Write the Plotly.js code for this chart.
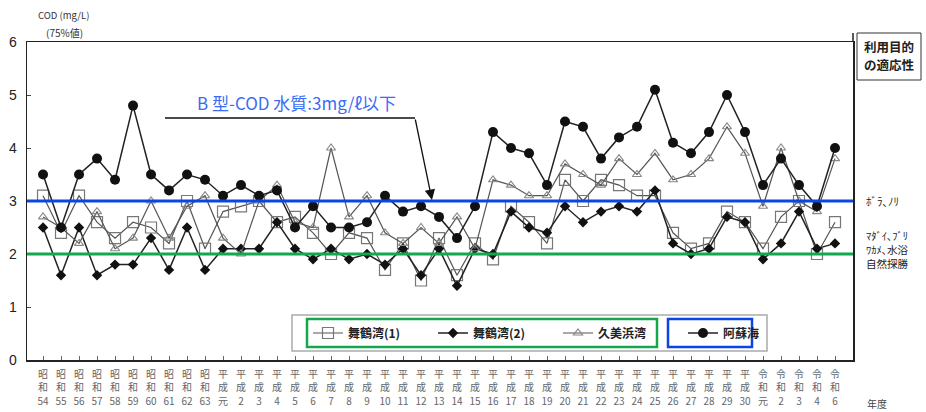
<!DOCTYPE html>
<html>
<head>
<meta charset="utf-8">
<script src="https://cdn.plot.ly/plotly-3.0.1.min.js"></script>
<style>html,body{margin:0;padding:0;background:#fff;}#chart{width:926px;height:412px;}</style>
</head>
<body>
<div id="chart"></div>
<script>
// Fiscal years (x categories)
const years = ['昭和54','昭和55','昭和56','昭和57','昭和58','昭和59','昭和60','昭和61','昭和62','昭和63',
  '平成元','平成2','平成3','平成4','平成5','平成6','平成7','平成8','平成9','平成10',
  '平成11','平成12','平成13','平成14','平成15','平成16','平成17','平成18','平成19','平成20',
  '平成21','平成22','平成23','平成24','平成25','平成26','平成27','平成28','平成29','平成30',
  '令和元','令和2','令和3','令和4','令和6'];

// COD 75% values (mg/L)
const maizuru1 = [3.1,2.4,3.1,2.6,2.3,2.6,2.5,2.2,3.0,2.1,
  2.8,2.9,3.0,2.6,2.7,2.4,2.0,2.4,2.3,1.7,
  2.2,1.5,2.3,1.6,2.2,1.9,2.9,2.6,2.2,3.4,
  3.0,3.4,3.3,3.1,3.1,2.4,2.1,2.2,2.8,2.6,
  2.1,2.7,3.0,2.0,2.6];
const maizuru2 = [2.5,1.6,2.5,1.6,1.8,1.8,2.3,1.7,2.5,1.7,
  2.1,2.1,2.1,2.6,2.1,1.9,2.1,1.9,2.0,1.8,
  2.1,1.6,2.1,1.4,2.1,2.0,2.8,2.5,2.4,2.9,
  2.6,2.8,2.9,2.8,3.2,2.2,2.0,2.1,2.7,2.6,
  1.9,2.2,2.8,2.1,2.2];
const kumihama = [2.7,2.5,2.2,2.8,2.1,2.3,3.0,2.3,2.9,3.1,
  2.3,2.0,3.0,3.3,2.6,2.5,4.0,2.7,3.1,2.4,
  2.2,2.5,2.2,2.7,2.1,3.4,3.3,3.1,3.1,3.7,
  3.5,3.3,3.8,3.5,3.9,3.4,3.5,3.8,4.4,3.9,
  2.9,4.0,3.0,2.8,3.8];
const asokai = [3.5,2.5,3.5,3.8,3.4,4.8,3.5,3.2,3.5,3.4,
  3.1,3.3,3.1,3.2,2.5,2.9,2.5,2.5,2.6,3.1,
  2.8,2.9,2.7,2.3,2.9,4.3,4.0,3.9,3.3,4.5,
  4.4,3.8,4.2,4.4,5.1,4.1,3.9,4.3,5.0,4.3,
  3.3,3.8,3.3,2.9,4.0];

const seriesNames = ['舞鶴湾(1)','舞鶴湾(2)','久美浜湾','阿蘇海'];
const stdB = 3;   // B型 standard
const stdA = 2;   // A型 standard
const yTicks = [0,1,2,3,4,5,6];

// vertical tick labels: one axis per text line
const idx = years.map((_, i) => i);
const line1 = years.map(y => y[0]);
const line2 = years.map(y => y[1]);
const line3 = years.map(y => y.slice(2));

const W = 926, H = 412, L = 27, R = 73, T = 42, B = 52;
const pw = W - L - R, ph = H - T - B;
const px = p => (p - L) / pw;          // pixel -> paper x
const py = p => (H - B - p) / ph;      // pixel -> paper y

const empty = idx.map(() => null);
const traces = [
  {x: idx, y: maizuru1, name: seriesNames[0], mode: 'lines+markers',
   line: {color: '#555', width: 1.2},
   marker: {symbol: 'square-open', size: 11, color: '#777', line: {width: 1.2}}},
  {x: idx, y: maizuru2, name: seriesNames[1], mode: 'lines+markers',
   line: {color: '#222', width: 1.5},
   marker: {symbol: 'diamond', size: 8, color: '#111'}},
  {x: idx, y: kumihama, name: seriesNames[2], mode: 'lines+markers',
   line: {color: '#555', width: 1.2},
   marker: {symbol: 'triangle-up-open', size: 8, color: '#888', line: {width: 1.1}}},
  {x: idx, y: asokai, name: seriesNames[3], mode: 'lines+markers',
   line: {color: '#222', width: 1.5},
   marker: {symbol: 'circle', size: 10, color: '#111'}},
  // carriers for the 2nd and 3rd tick-label lines (no visible marks)
  {x: idx, y: empty, xaxis: 'x2', yaxis: 'y', mode: 'markers', showlegend: false, hoverinfo: 'skip',
   marker: {opacity: 0}},
  {x: idx, y: empty, xaxis: 'x3', yaxis: 'y', mode: 'markers', showlegend: false, hoverinfo: 'skip',
   marker: {opacity: 0}}
];

const jp = '"Noto Sans CJK JP", "Noto Sans", sans-serif';
const xr = [-0.89, 45.0];
const tickFont = {family: jp, size: 10, color: '#666'};
const subAxis = (labels, standoff) => ({
  range: xr, overlaying: 'x', anchor: 'y', side: 'bottom', tickmode: 'array',
  tickvals: idx, ticktext: labels, ticks: '', showline: false, showgrid: false, zeroline: false,
  automargin: false, ticklabelstandoff: standoff, tickfont: tickFont, tickangle: 0, fixedrange: true
});

const layout = {
  width: W, height: H,
  margin: {l: L, r: R, t: T, b: B},
  paper_bgcolor: '#fff', plot_bgcolor: '#fff',
  font: {family: jp, color: '#333'},
  showlegend: true,
  legend: {orientation: 'h', x: px(308), y: py(333), xanchor: 'left', yanchor: 'middle',
    bgcolor: 'rgba(0,0,0,0)', borderwidth: 0, entrywidth: 80, entrywidthmode: 'pixels',
    font: {family: jp, size: 12, color: '#222', weight: 'bold'}, itemwidth: 30, tracegroupgap: 0},
  xaxis: {range: xr, tickmode: 'array', tickvals: idx, ticktext: line1,
    ticks: 'inside', ticklen: 4, tickcolor: '#666', showline: true, linecolor: '#222', linewidth: 1.5,
    mirror: true, showgrid: false, zeroline: false, automargin: false, ticklabelstandoff: 4,
    tickfont: tickFont, tickangle: 0},
  xaxis2: subAxis(line2, 20),
  xaxis3: subAxis(line3, 34),
  yaxis: {range: [0, 6], tickvals: yTicks, ticks: 'inside', ticklen: 4, tickcolor: '#444',
    showline: true, linecolor: '#222', linewidth: 1.5, mirror: true, showgrid: false, zeroline: false,
    automargin: false, ticklabelstandoff: 6,
    tickfont: {family: '"Liberation Sans", Arial, sans-serif', size: 14, color: '#222'}},
  shapes: [
    {type: 'line', xref: 'paper', yref: 'y', x0: 0, x1: 1, y0: stdB, y1: stdB,
     line: {color: '#0a45e6', width: 3}, layer: 'above'},
    {type: 'line', xref: 'paper', yref: 'y', x0: 0, x1: 1, y0: stdA, y1: stdA,
     line: {color: '#13a84e', width: 3}, layer: 'above'},
    {type: 'line', xref: 'paper', yref: 'paper', x0: px(165), x1: px(415), y0: py(118), y1: py(118),
     line: {color: '#111', width: 1.3}},
    {type: 'rect', xref: 'paper', yref: 'paper', x0: px(292), x1: px(767), y0: py(351), y1: py(315),
     line: {color: '#aaa', width: 1.5}, fillcolor: '#fff', layer: 'below'},
    {type: 'rect', xref: 'paper', yref: 'paper', x0: px(307), x1: px(657), y0: py(347), y1: py(319),
     line: {color: '#13a84e', width: 2.5}},
    {type: 'rect', xref: 'paper', yref: 'paper', x0: px(668), x1: px(752), y0: py(347), y1: py(319),
     line: {color: '#0a45e6', width: 2.5}},
    {type: 'rect', xref: 'paper', yref: 'paper', x0: px(857), x1: px(921), y0: py(80), y1: py(33),
     line: {color: '#333', width: 1}},
    {type: 'line', xref: 'paper', yref: 'paper', x0: 1, x1: 1, y0: 1, y1: py(33),
     line: {color: '#222', width: 1.5}}
  ],
  annotations: [
    {xref: 'paper', yref: 'paper', x: px(63), y: py(15), text: 'COD (mg/L)', showarrow: false,
     font: {size: 9.5, color: '#333'}, xanchor: 'center', yanchor: 'middle'},
    {xref: 'paper', yref: 'paper', x: px(64), y: py(32), text: '(75%値)', showarrow: false,
     font: {size: 10, color: '#333'}, xanchor: 'center', yanchor: 'middle'},
    {xref: 'paper', yref: 'paper', x: px(877), y: py(403), text: '年度', showarrow: false,
     font: {size: 10, color: '#444'}, xanchor: 'center', yanchor: 'middle'},
    {xref: 'paper', yref: 'paper', x: px(296), y: py(103), text: 'B 型-COD 水質:3mg/ℓ以下', showarrow: false,
     font: {size: 17, color: '#3a6cf4'}, xanchor: 'center', yanchor: 'middle'},
    {xref: 'paper', yref: 'paper', x: px(432), y: py(200), ax: -17, ay: -82, text: '', showarrow: true,
     arrowhead: 2, arrowsize: 1.6, arrowwidth: 1.3, arrowcolor: '#111'},
    {xref: 'paper', yref: 'paper', x: px(862), y: py(46), text: '<b>利用目的</b>', showarrow: false,
     font: {size: 12.5, color: '#222'}, xanchor: 'left', yanchor: 'middle'},
    {xref: 'paper', yref: 'paper', x: px(862), y: py(64), text: '<b>の適応性</b>', showarrow: false,
     font: {size: 12.5, color: '#222'}, xanchor: 'left', yanchor: 'middle'},
    {xref: 'paper', yref: 'y', x: px(864), y: stdB, text: 'ﾎﾞﾗ､ﾉﾘ', showarrow: false,
     font: {size: 11, color: '#222'}, xanchor: 'left', yanchor: 'middle'},
    {xref: 'paper', yref: 'paper', x: px(864), y: py(235), text: 'ﾏﾀﾞｲ､ﾌﾞﾘ', showarrow: false,
     font: {size: 10.5, color: '#222'}, xanchor: 'left', yanchor: 'middle'},
    {xref: 'paper', yref: 'paper', x: px(864), y: py(249), text: 'ﾜｶﾒ､水浴', showarrow: false,
     font: {size: 10.5, color: '#222'}, xanchor: 'left', yanchor: 'middle'},
    {xref: 'paper', yref: 'paper', x: px(864), y: py(263), text: '自然探勝', showarrow: false,
     font: {size: 10.5, color: '#222'}, xanchor: 'left', yanchor: 'middle'}
  ]
};

Plotly.newPlot('chart', traces, layout, {displayModeBar: false, staticPlot: true});
</script>
</body>
</html>
